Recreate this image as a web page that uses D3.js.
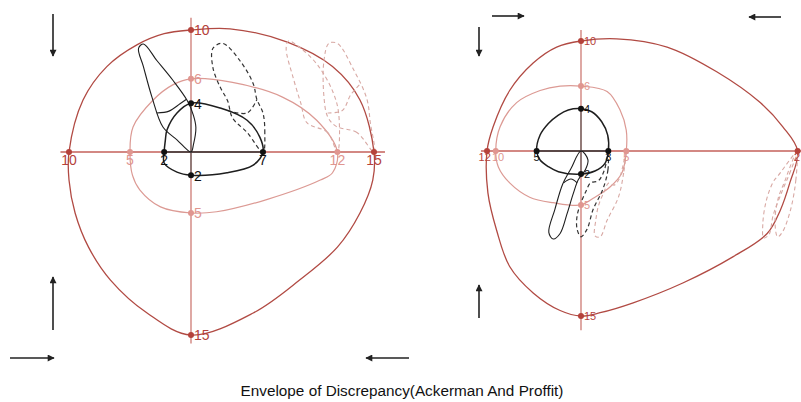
<!DOCTYPE html>
<html>
<head>
<meta charset="utf-8">
<script src="https://cdn.jsdelivr.net/npm/d3@7"></script>
<style>
  body { margin: 0; background: #fff; }
  text { font-family: "Liberation Sans", Arial, sans-serif; }
</style>
</head>
<body>
<script>
// envelopes in mm, [x, y] (y up)
const leftOuter = [[-10,0],[-8.85,4.26],[-6.9,7],[-4.4,8.8],[-2.2,9.7],[0,10],[3.2,10.1],[7.9,9],[11.6,7],[13.85,4.26],[15,0],
  [14.9,-2.3],[13.85,-5],[12,-7.8],[8.9,-10.5],[5.1,-13.2],[0,-15],[-3.6,-13.2],[-6.6,-10.5],[-8.4,-7.8],[-9.5,-5],[-10,-2.3]];
const leftMiddle = [[-5,0],[-4.75,2.05],[-3.1,4.26],[-1.5,5.5],[0,6],[3.4,5.7],[7.5,4.5],[10.3,2.6],[12,0],
  [11.6,-1.7],[10.6,-2.3],[6.2,-3.9],[2.1,-4.9],[0,-5],[-2.5,-4.5],[-4.2,-3.1],[-4.8,-1.9]];
const leftInner = [[-2.2,0],[-2.1,1],[-1.97,1.8],[-1.15,3.2],[0,4],[2.4,3.6],[4.6,2.6],[5.65,1.2],[5.9,0],
  [5.1,-1.07],[2.95,-1.7],[0,-1.9],[-1.15,-1.65],[-2.2,-0.9]];
const leftLoop = [[0,0],[-1.15,1],[-2.3,2.05],[-3.2,4.5],[-3.9,7],[-4.3,8.5],[-3.9,8.85],[-2.8,7.5],[-1.5,5.9],[-0.3,4.2],
  [0.2,3],[0.4,2],[0.2,0.6]];
const leftLoopBar = [[-2.8,3.2],[-1.8,3.35],[-0.9,3.95],[-0.4,4.3]];
const leftDashed = [[5.9,0],[6.05,1.55],[5.9,3.2],[5.4,4.3],[5.1,5.6],[4,7.5],[2.6,8.9],[1.8,8.5],[1.8,6.9],[2.4,5.3],[3.0,4.2],[3.4,2.8],[4.6,1.6]];
const leftDashedBar = [[3.0,3.4],[4.6,3.2],[5.4,4.3]];
const leftPinkA = [[12,0],[11.2,1.6],[9.5,2.4],[9.0,4],[8.4,6],[7.8,8.5],[8.0,9.1],[9.0,8.5],[10.4,7.1],[11.6,5],[12.1,3.2]];
const leftPinkB = [[15,0],[13.6,1.6],[11.9,2.1],[11.2,2.9],[10.9,4.5],[10.9,7.5],[11.3,8.9],[12,8.9],[13.3,6.8],[14.4,4.4],[14.7,2.4]];
const leftPinkBar = [[11.2,3.2],[12.4,3.4],[13.1,4.7],[13.9,5.6]];

const rightOuter = [[-10.8,0],[-10.1,2.2],[-8.2,5.5],[-5.5,8],[-2.8,9.45],[0,10],[4.1,10.2],[9.9,9.45],[15.6,7.2],[20.6,4.4],[23.2,2.2],[24.9,0],
  [24,-2.9],[22.9,-5.4],[21.4,-7.5],[17.5,-9.6],[11.7,-12],[6,-13.8],[2.2,-14.7],[0,-15],[-2.4,-14.5],[-5.5,-12.9],[-8.2,-10.5],[-9.7,-7.2],[-10.7,-3.8]];
const rightMiddle = [[-9.8,0],[-9.3,2.2],[-7.4,4.4],[-4.7,5.5],[-2.4,5.9],[0,5.9],[3,5.4],[4.5,3.7],[5.2,1.9],[5.2,0],
  [4.7,-2],[3.3,-3.3],[1.4,-4.3],[0,-4.9],[-3.2,-4.7],[-5.9,-4.2],[-8.2,-2.9],[-9.5,-1.45]];
const rightInner = [[-5.1,0],[-4.7,1.45],[-3.75,2.5],[-2.6,3.27],[-1.46,3.73],[0,3.85],[1.23,3.57],[2.38,2.66],[3.07,1.45],[3.14,0],
  [2.76,-1.12],[1.6,-1.82],[0,-2.1],[-2.6,-1.88],[-3.75,-1.43],[-4.7,-0.82]];
const rightLoop = [[0,0],[-1.15,-1.6],[-2.1,-3],[-3,-5.3],[-3.7,-7.4],[-3.2,-8],[-2.4,-7.5],[-1.6,-5.7],[-0.9,-3.9],[-0.3,-2.6],[0.5,-1.7],[0.8,-0.8]];
const rightLoopBar = [[-2,-2.9],[-1.15,-2.55],[-0.45,-2.9]];
const rightDashed = [[3.1,-0.2],[3.1,-1.7],[2.5,-3.5],[1.4,-5.3],[0.7,-7.1],[0,-7.8],[-0.45,-7.1],[-0.45,-5.9],[0,-4.7],[0.55,-3.7],[1.1,-2.9],[2,-2.7],[2.7,-1.7]];
const rightPinkA = [[5.2,0],[4.9,-2],[4.3,-4.2],[3,-6.3],[2.2,-7.8],[1.6,-7.7],[1.7,-6.3],[2.0,-5],[2.6,-3.8],[3.2,-2.9],[3.8,-3.1],[4.4,-2.5]];
const rightPinkB = [[24.8,-0.1],[24.1,-1.8],[23.2,-3.5],[22.1,-5.8],[21.6,-7.6],[21.0,-7.9],[20.9,-6.6],[21.3,-4.5],[22.1,-2.8],[22.7,-2.2]];
const rightPinkC = [[24.8,-0.1],[24.7,-2.6],[24.1,-5.3],[23.2,-7.3],[22.6,-7.8],[22.3,-6.3],[22.7,-4.2],[23.4,-2.8],[24.0,-1.5]];

// markers: value on the axis and the label printed next to it
const leftXMarks = [{v:-10,t:"10",k:"outer"},{v:-5,t:"5",k:"middle"},{v:-2.2,t:"2",k:"inner"},{v:5.9,t:"7",k:"inner"},{v:12,t:"12",k:"middle"},{v:15,t:"15",k:"outer"}];
const leftYMarks = [{v:10,t:"10",k:"outer"},{v:6,t:"6",k:"middle"},{v:4,t:"4",k:"inner"},{v:-1.9,t:"2",k:"inner"},{v:-5,t:"5",k:"middle"},{v:-15,t:"15",k:"outer"}];
const rightXMarks = [{v:-10.8,t:"12",k:"outer"},{v:-9.8,t:"10",k:"middle"},{v:-5.1,t:"5",k:"inner"},{v:3.14,t:"3",k:"inner"},{v:5.2,t:"5",k:"middle"},{v:24.9,t:"2",k:"outer"}];
const rightYMarks = [{v:10,t:"10",k:"outer"},{v:5.9,t:"6",k:"middle"},{v:3.85,t:"4",k:"inner"},{v:-2.1,t:"2",k:"inner"},{v:-4.9,t:"5",k:"middle"},{v:-15,t:"15",k:"outer"}];

const title = "Envelope of Discrepancy(Ackerman And Proffit)";

const W = 801, H = 402;
const colOuter = "#b14a43", colMiddle = "#dc9a94", colAxis = "#c4615a", colInk = "#1e1e1e", colPink = "#d8a9a4";
const markCol = {outer: "#b5423b", middle: "#e09690", inner: "#111"};

const svg = d3.select("body").append("svg").attr("width", W).attr("height", H);

function drawPanel(p) {
  const x = d3.scaleLinear().domain([0, 10]).range([p.ox, p.ox + 10 * p.sx]);
  const y = d3.scaleLinear().domain([0, 10]).range([p.oy, p.oy - 10 * p.sy]);
  const g = svg.append("g");
  const closed = d3.line().x(d => x(d[0])).y(d => y(d[1])).curve(d3.curveCatmullRomClosed.alpha(0.5));
  const open = d3.line().x(d => x(d[0])).y(d => y(d[1])).curve(d3.curveCatmullRom.alpha(0.5));

  // red axes
  g.append("line").attr("x1", x(p.xr[0])).attr("x2", x(p.xr[1])).attr("y1", y(0)).attr("y2", y(0))
    .attr("stroke", colAxis).attr("stroke-width", 1.3);
  g.append("line").attr("x1", x(0)).attr("x2", x(0)).attr("y1", y(p.yr[0])).attr("y2", y(p.yr[1]))
    .attr("stroke", colAxis).attr("stroke-width", 1.1);
  // black part of the axes inside inner envelope
  g.append("line").attr("x1", x(p.ix[0])).attr("x2", x(p.ix[1])).attr("y1", y(0)).attr("y2", y(0))
    .attr("stroke", "#333").attr("stroke-width", 1.3);
  g.append("line").attr("x1", x(0)).attr("x2", x(0)).attr("y1", y(p.iy[0])).attr("y2", y(p.iy[1]))
    .attr("stroke", "#555").attr("stroke-width", 1.1);

  g.append("path").attr("d", closed(p.outer)).attr("fill", "none").attr("stroke", colOuter).attr("stroke-width", 1.3);
  g.append("path").attr("d", closed(p.middle)).attr("fill", "none").attr("stroke", colMiddle).attr("stroke-width", 1.2);

  p.pink.forEach(s => g.append("path").attr("d", s.c ? closed(s.d) : open(s.d)).attr("fill", "none")
    .attr("stroke", colPink).attr("stroke-width", 1.1).attr("stroke-dasharray", "4,3"));
  p.dashed.forEach(s => g.append("path").attr("d", s.c ? closed(s.d) : open(s.d)).attr("fill", "none")
    .attr("stroke", "#333").attr("stroke-width", 1.2).attr("stroke-dasharray", "4,3"));
  p.solid.forEach(s => g.append("path").attr("d", s.c ? closed(s.d) : open(s.d)).attr("fill", "none")
    .attr("stroke", colInk).attr("stroke-width", 1.1));

  g.append("path").attr("d", closed(p.inner)).attr("fill", "none").attr("stroke", colInk).attr("stroke-width", 1.5);

  // markers
  g.selectAll(".xm").data(p.xm).enter().append("circle")
    .attr("cx", d => x(d.v)).attr("cy", y(0)).attr("r", 3).attr("fill", d => markCol[d.k]);
  // nudge labels that sit too close together apart
  const lx = p.xm.map(d => Math.min(x(d.v), W - 4));
  for (let i = 1; i < lx.length; i++) {
    const need = (p.xm[i - 1].t.length + p.xm[i].t.length) * p.fs * 0.28 + 1;
    if (lx[i] - lx[i - 1] < need) {
      const push = (need - (lx[i] - lx[i - 1])) / 2;
      lx[i - 1] -= push; lx[i] += push;
    }
  }
  g.selectAll(".xl").data(p.xm).enter().append("text")
    .attr("x", (d, i) => lx[i]).attr("y", y(0) + p.fs - 1).attr("text-anchor", "middle")
    .attr("font-size", p.fs).attr("fill", d => markCol[d.k]).text(d => d.t);
  g.selectAll(".ym").data(p.ym).enter().append("circle")
    .attr("cx", x(0)).attr("cy", d => y(d.v)).attr("r", 3).attr("fill", d => markCol[d.k]);
  g.selectAll(".yl").data(p.ym).enter().append("text")
    .attr("x", x(0) + 3).attr("y", d => y(d.v) + p.fs * 0.38)
    .attr("font-size", p.fs).attr("fill", d => markCol[d.k]).text(d => d.t);
}

drawPanel({
  ox: 191, oy: 152, sx: 12.2, sy: 12.2,
  xr: [-10.7, 15.9], yr: [11, -15.7], ix: [-2.2, 5.9], iy: [4, -1.9],
  outer: leftOuter, middle: leftMiddle, inner: leftInner,
  solid: [{d: leftLoop, c: true}, {d: leftLoopBar}],
  dashed: [{d: leftDashed, c: true}, {d: leftDashedBar}],
  pink: [{d: leftPinkA, c: true}, {d: leftPinkB, c: true}, {d: leftPinkBar}],
  xm: leftXMarks, ym: leftYMarks, fs: 14
});

drawPanel({
  ox: 581, oy: 151, sx: 8.7, sy: 11,
  xr: [-11.5, 25.5], yr: [11, -16.3], ix: [-5.1, 3.14], iy: [3.85, -2.1],
  outer: rightOuter, middle: rightMiddle, inner: rightInner,
  solid: [{d: rightLoop, c: true}, {d: rightLoopBar}],
  dashed: [{d: rightDashed, c: true}],
  pink: [{d: rightPinkA, c: true}, {d: rightPinkB, c: true}, {d: rightPinkC, c: true}],
  xm: rightXMarks, ym: rightYMarks, fs: 11
});

// direction arrows
svg.append("defs").append("marker").attr("id", "ah").attr("viewBox", "0 0 10 10")
  .attr("refX", 9).attr("refY", 5).attr("markerWidth", 9).attr("markerHeight", 7)
  .attr("markerUnits", "userSpaceOnUse").attr("orient", "auto")
  .append("path").attr("d", "M0,0L10,5L0,10z").attr("fill", "#222");
const arrows = [[53,14,53,56],[53,330,53,277],[10,358,54,358],[409,358,366,358],
  [492,16,524,16],[781,17,749,17],[479,27,479,56],[479,318,479,285]];
svg.selectAll(".arr").data(arrows).enter().append("line")
  .attr("x1", d => d[0]).attr("y1", d => d[1]).attr("x2", d => d[2]).attr("y2", d => d[3])
  .attr("stroke", "#222").attr("stroke-width", 1.6).attr("marker-end", "url(#ah)");

svg.append("text").attr("x", 402).attr("y", 396).attr("text-anchor", "middle")
  .attr("font-size", 15.3).attr("fill", "#111").text(title);
</script>
</body>
</html>
